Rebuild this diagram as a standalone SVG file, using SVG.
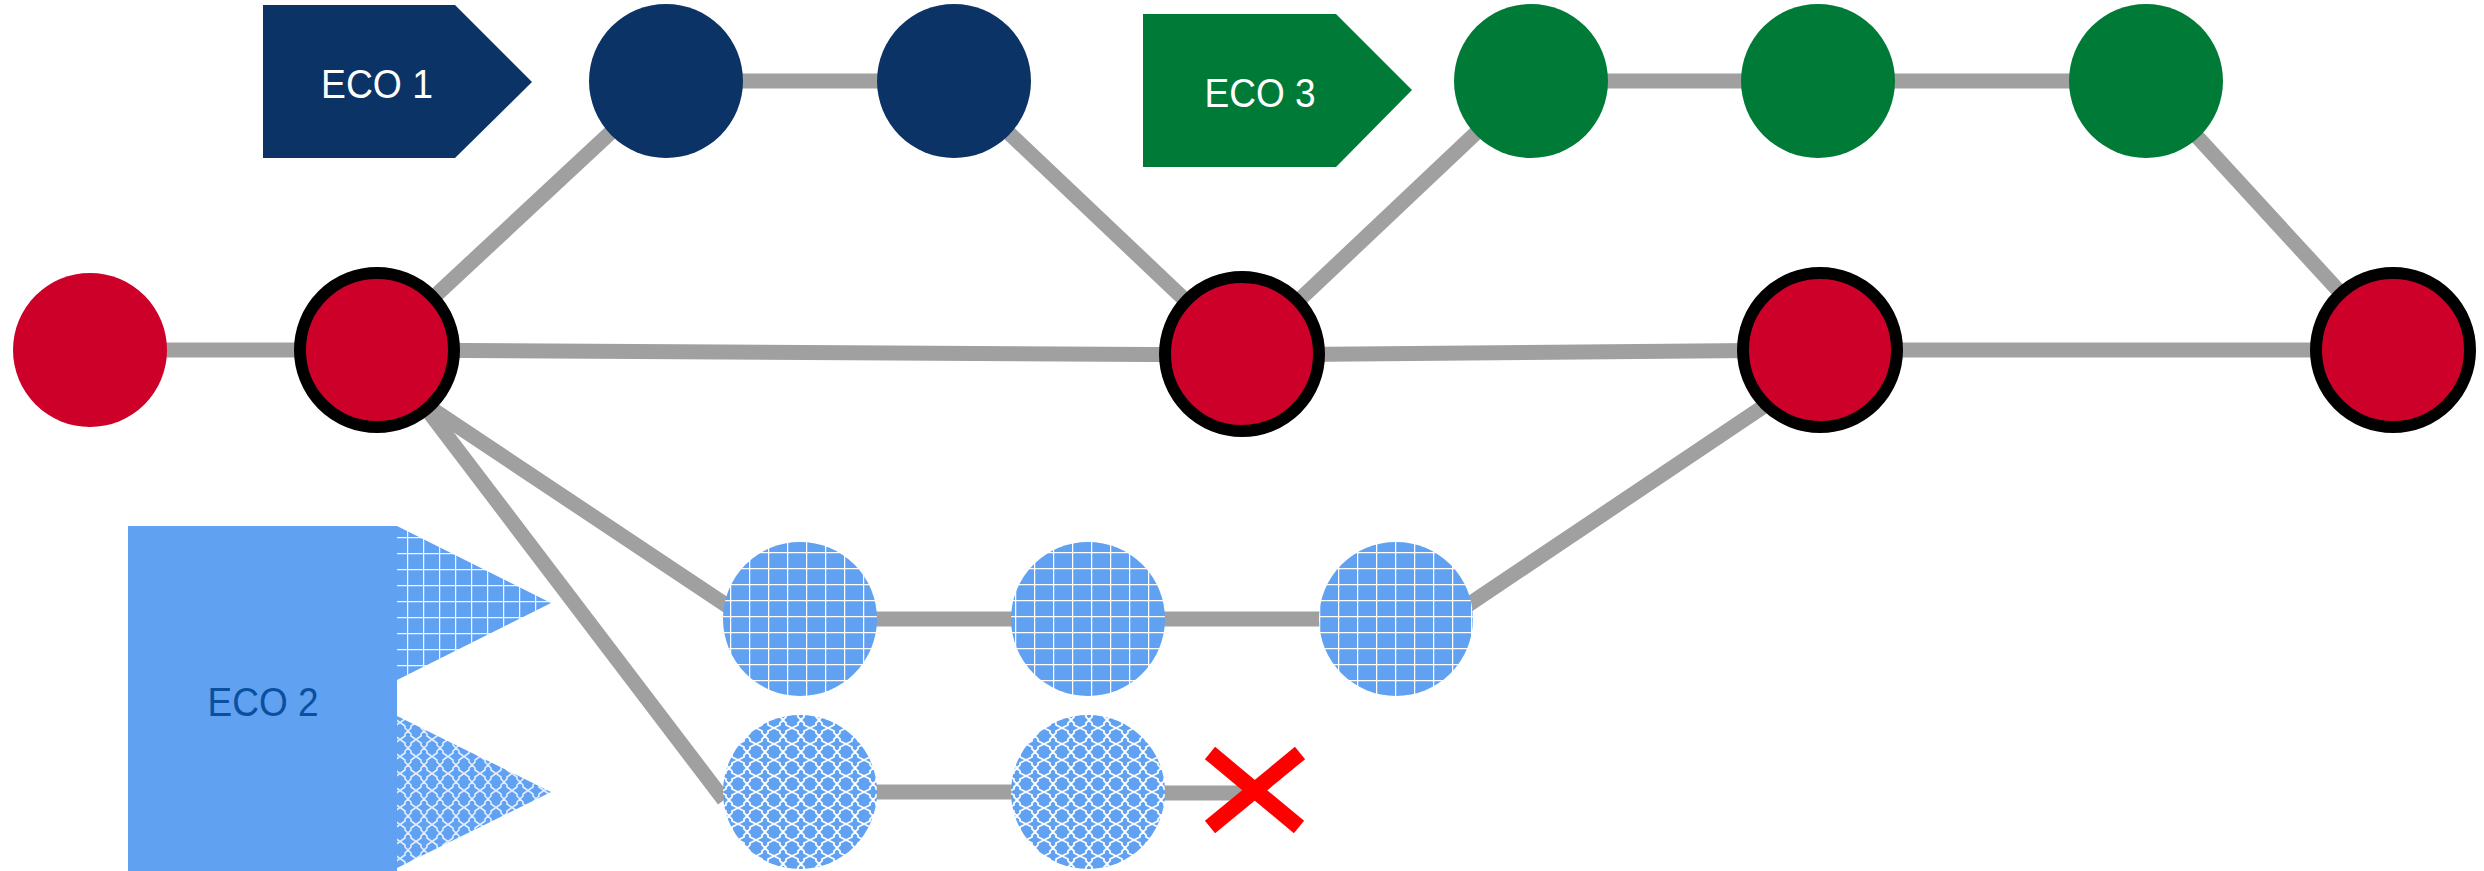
<svg xmlns="http://www.w3.org/2000/svg" width="2484" height="871" viewBox="0 0 2484 871">
  <style>
    .conn { stroke: #A0A0A0; stroke-width: 15; fill: none; stroke-linecap: butt; }
    .red { fill: #CC0029; }
    .redo { fill: #CC0029; stroke: #000000; stroke-width: 12; }
    .navy { fill: #0B3366; }
    .green { fill: #007A37; }
    .lbl { font-family: "Liberation Sans", Arial, sans-serif; font-size: 41px; text-anchor: middle; }
    .xmark { stroke: #FF0000; stroke-width: 16; stroke-linecap: butt; }
  </style>
  <defs>
    <pattern id="gridC" patternUnits="userSpaceOnUse" x="8" y="8" width="19" height="16">
      <rect width="19" height="16" fill="#60A1F1"/>
      <path d="M0,0 H19 M0,0 V16" stroke="#FFFFFF" stroke-width="2.5"/>
    </pattern>
    <pattern id="gridT" patternUnits="userSpaceOnUse" x="7" y="9" width="16" height="16">
      <rect width="16" height="16" fill="#60A1F1"/>
      <path d="M0,0 H16 M0,0 V16" stroke="#EEF5FE" stroke-width="2.5"/>
    </pattern>
    <pattern id="diaC" patternUnits="userSpaceOnUse" x="0" y="0" width="18" height="16">
      <rect width="18" height="16" fill="#60A1F1"/>
      <path d="M9,0 L12,3 L12,5 L18,8 L12,11 L12,13 L9,16 L6,13 L6,11 L0,8 L6,5 L6,3 Z" stroke="#FFFFFF" stroke-width="1.8" fill="none"/>
    </pattern>
    <pattern id="diaT" patternUnits="userSpaceOnUse" x="0" y="0" width="16" height="17">
      <rect width="16" height="17" fill="#60A1F1"/>
      <path d="M8,0 L11,3 L11,5 L16,8.5 L11,12 L11,14 L8,17 L5,14 L5,12 L0,8.5 L5,5 L5,3 Z" stroke="#E3EEFC" stroke-width="1.6" fill="none"/>
    </pattern>
  </defs>
  <rect width="2484" height="871" fill="#FFFFFF"/>

  <g id="connectors">
    <line class="conn" x1="90" y1="350" x2="377" y2="350"/>
    <line class="conn" x1="377" y1="350" x2="666" y2="81"/>
    <line class="conn" x1="666" y1="81" x2="954" y2="81"/>
    <line class="conn" x1="954" y1="81" x2="1242" y2="354"/>
    <line class="conn" x1="377" y1="350" x2="1242" y2="355"/>
    <line class="conn" x1="1242" y1="354" x2="1531" y2="81"/>
    <line class="conn" x1="1531" y1="81" x2="1818" y2="81"/>
    <line class="conn" x1="1818" y1="81" x2="2146" y2="81"/>
    <line class="conn" x1="2146" y1="81" x2="2393" y2="350"/>
    <line class="conn" x1="1242" y1="355" x2="1820" y2="350"/>
    <line class="conn" x1="1820" y1="350" x2="2393" y2="350"/>
    <line class="conn" x1="420" y1="401" x2="729" y2="607"/>
    <line class="conn" x1="400" y1="374" x2="724" y2="800"/>
    <line class="conn" x1="800" y1="619" x2="1088" y2="619"/>
    <line class="conn" x1="1088" y1="619" x2="1396" y2="619"/>
    <line class="conn" x1="1468" y1="605" x2="1800" y2="382"/>
    <line class="conn" x1="800" y1="792" x2="1088" y2="792"/>
    <line class="conn" x1="1088" y1="793" x2="1250" y2="793"/>
  </g>

  <g id="eco1">
    <polygon class="navy" points="263,5 455,5 532,82 455,158 263,158"/>
    <text class="lbl" x="377" y="98" fill="#FFFFFF" textLength="112" lengthAdjust="spacingAndGlyphs">ECO 1</text>
  </g>
  <g id="eco3">
    <polygon class="green" points="1143,14 1336,14 1412,90 1336,167 1143,167"/>
    <text class="lbl" x="1260" y="107" fill="#FFFFFF" textLength="111" lengthAdjust="spacingAndGlyphs">ECO 3</text>
  </g>
  <g id="eco2">
    <rect x="128" y="526" width="269" height="345" fill="#60A1F1"/>
    <polygon points="397,526 551,603 397,680" fill="url(#gridT)"/>
    <polygon points="397,716 551,792 397,868" fill="url(#diaT)"/>
    <text class="lbl" x="263" y="716" fill="#0B4F9F" textLength="111" lengthAdjust="spacingAndGlyphs">ECO 2</text>
  </g>

  <g id="r1"><circle class="red" cx="90" cy="350" r="77"/></g>
  <g id="r2"><circle class="redo" cx="377" cy="350" r="77"/></g>
  <g id="r3"><circle class="redo" cx="1242" cy="354" r="77"/></g>
  <g id="r4"><circle class="redo" cx="1820" cy="350" r="77"/></g>
  <g id="r5"><circle class="redo" cx="2393" cy="350" r="77"/></g>

  <g id="n1"><circle class="navy" cx="666" cy="81" r="77"/></g>
  <g id="n2"><circle class="navy" cx="954" cy="81" r="77"/></g>

  <g id="g1"><circle class="green" cx="1531" cy="81" r="77"/></g>
  <g id="g2"><circle class="green" cx="1818" cy="81" r="77"/></g>
  <g id="g3"><circle class="green" cx="2146" cy="81" r="77"/></g>

  <g id="b1"><circle cx="800" cy="619" r="77" fill="url(#gridC)"/></g>
  <g id="b2"><circle cx="1088" cy="619" r="77" fill="url(#gridC)"/></g>
  <g id="b3"><circle cx="1396" cy="619" r="77" fill="url(#gridC)"/></g>

  <g id="d1"><circle cx="800" cy="792" r="77" fill="url(#diaC)"/></g>
  <g id="d2"><circle cx="1088" cy="792" r="77" fill="url(#diaC)"/></g>

  <g id="xmark">
    <line class="xmark" x1="1210" y1="753" x2="1299" y2="827"/>
    <line class="xmark" x1="1300" y1="753" x2="1210" y2="827"/>
  </g>
</svg>
